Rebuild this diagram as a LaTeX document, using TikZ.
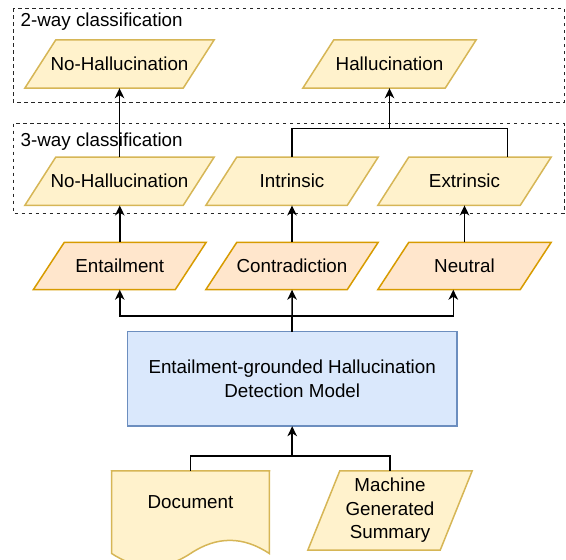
\documentclass[tikz,border=0pt]{standalone}
\usepackage{fontspec}
\setmainfont{Liberation Sans}
\usetikzlibrary{arrows.meta,backgrounds,calc}
\definecolor{yfill}{HTML}{FFF2CC}
\definecolor{ydraw}{HTML}{D6B656}
\definecolor{ofill}{HTML}{FFE6CC}
\definecolor{odraw}{HTML}{D79B00}
\definecolor{bfill}{HTML}{DAE8FC}
\definecolor{bdraw}{HTML}{6C8EBF}
\tikzset{
  txt/.style={inner sep=0pt, align=center, font=\fontsize{18.8}{23.5}\selectfont},
  pbox/.style={txt, minimum height=48pt},
  yel/.style={fill=yfill, draw=ydraw, line width=1.5pt, line join=miter},
  ora/.style={fill=ofill, draw=odraw, line width=1.5pt},
  blu/.style={fill=bfill, draw=bdraw, line width=1.5pt},
  dashbox/.style={draw=black!85, line width=1pt, dash pattern=on 3.5pt off 3.5pt},
  conn/.style={draw=black, line width=1.6pt},
  arr/.style={conn, -{Stealth[length=10pt,width=9.5pt,inset=3pt]}},
}
\newcommand\paraedge[3]{% node, slant, style
  \path[#3] (#1.south west) -- ([xshift=#2]#1.north west) -- (#1.north east) -- ([xshift=-#2]#1.south east) -- cycle;}
\begin{document}
\begin{tikzpicture}[x=1pt,y=-1pt]
\useasboundingbox (0,0) rectangle (566,560);
% dashed groups
\draw[dashbox] (13,8) rectangle (564,102);
\draw[dashbox] (13,123.5) rectangle (564,213);
\node[txt, anchor=base west] (lab2) at (20.5,26) {2-way classification};
\node[txt, anchor=base west] (lab3) at (20.5,146.5) {3-way classification};
% row 1
\node[pbox, minimum width=189pt] (nh1) at (119.5,64) {No-Hallucination};
\node[pbox, minimum width=173pt] (hal) at (389.5,64) {Hallucination};
% row 2
\node[pbox, minimum width=189pt] (nh2) at (119.5,181.25) {No-Hallucination};
\node[pbox, minimum width=172pt] (intr) at (292,181.25) {Intrinsic};
\node[pbox, minimum width=173pt] (extr) at (464.5,181.25) {Extrinsic};
% row 3
\node[pbox, minimum width=172.5pt, minimum height=47pt] (ent) at (119.75,266) {Entailment};
\node[pbox, minimum width=172pt, minimum height=47pt] (con) at (292,266) {Contradiction};
\node[pbox, minimum width=173pt, minimum height=47pt] (neu) at (464.5,266) {Neutral};
% model
\node[txt, minimum width=329pt, minimum height=94.3pt] (model) at (292.2,378.85) {Entailment-grounded Hallucination\\Detection Model};
% inputs
\node[txt, minimum width=157.6pt, minimum height=97pt] (doc) at (190.5,519.5) {};
\node[txt] (doctxt) at (190.5,502) {Document};
\node[txt, minimum width=164pt, minimum height=79pt] (mgs) at (390,510.5) {Machine\\Generated\\Summary};
\begin{scope}[on background layer]
  \paraedge{nh1}{31pt}{yel}
  \paraedge{hal}{31pt}{yel}
  \paraedge{nh2}{31pt}{yel}
  \paraedge{intr}{31pt}{yel}
  \paraedge{extr}{31pt}{yel}
  \paraedge{ent}{31pt}{ora}
  \paraedge{con}{31pt}{ora}
  \paraedge{neu}{31pt}{ora}
  \paraedge{mgs}{32pt}{yel}
  \path[blu] (model.south west) rectangle (model.north east);
  \path[yel] (doc.north west) -- (doc.north east) -- (269.3,553.5)
    .. controls (243.0,536.0) and (216.8,536.0) .. (190.5,553.5)
    .. controls (164.2,570.9) and (138.0,570.9) .. (111.7,553.5) -- cycle;
\end{scope}
% connectors
\coordinate (j2) at (hal.south |- 0,128.3);
\coordinate (extop) at ([xshift=43pt]extr.north);
\draw[arr] (nh2.north) -- (nh1.south);
\draw[conn] (intr.north) |- (j2) -| (extop);
\draw[arr] (j2) -- (hal.south);
\draw[arr] (ent.north) -- (ent.north |- nh2.south);
\draw[arr] (con.north) -- (con.north |- intr.south);
\draw[arr] (neu.north) -- (neu.north |- extr.south);
\coordinate (j3) at (model.north |- 0,316);
\coordinate (neutgt) at ([xshift=-11.2pt]neu.south);
\draw[conn] (model.north) -- (j3);
\draw[arr] (j3) -| (ent.south);
\draw[arr] (j3) -- (con.south);
\draw[arr] (j3) -| (neutgt);
\coordinate (j4) at (model.south |- 0,456);
\draw[conn] (doc.north) |- (j4) -| (mgs.north);
\draw[arr] (j4) -- (model.south);
\end{tikzpicture}
\end{document}
